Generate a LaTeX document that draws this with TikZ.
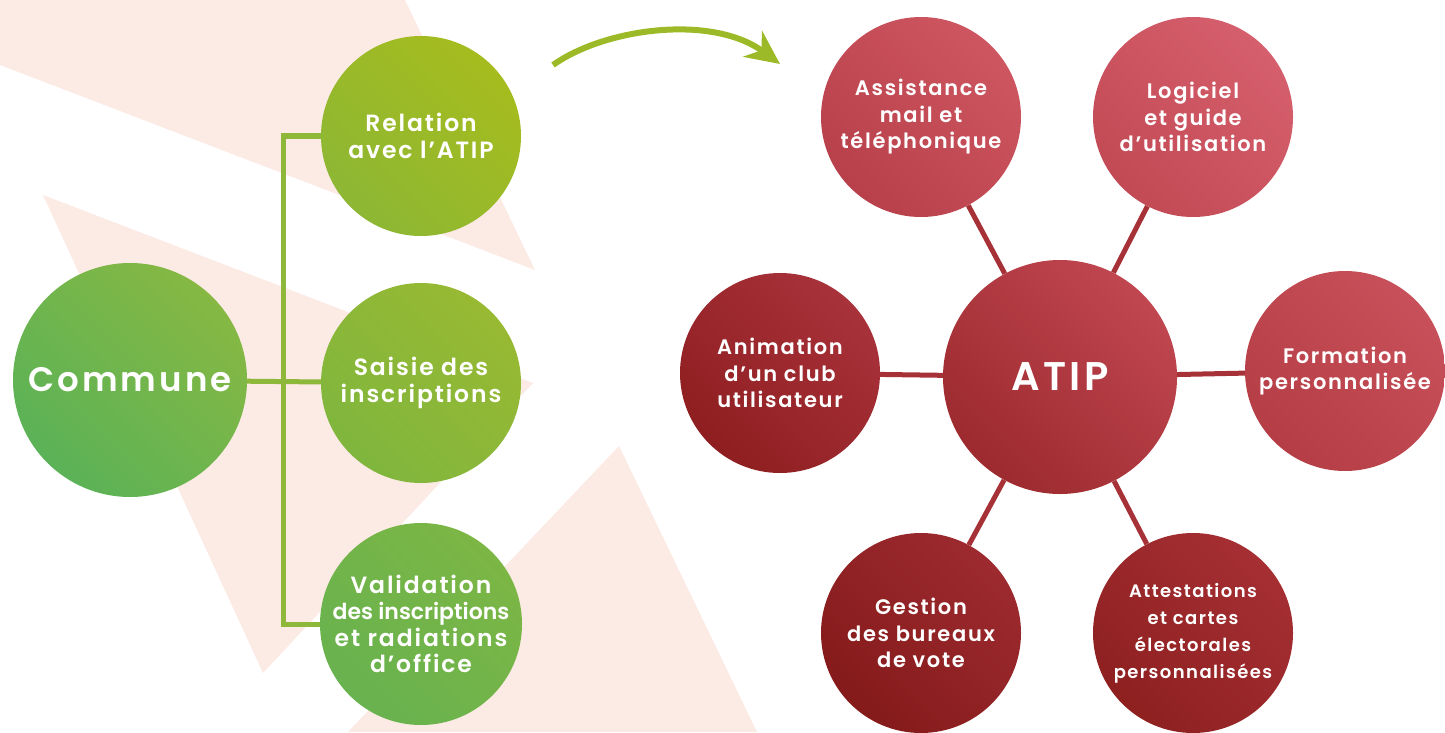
\documentclass[tikz,border=0pt]{standalone}
\usepackage{fontspec}
\setmainfont{Poppins}[LetterSpace=8, BoldFont={Poppins SemiBold}]
\usetikzlibrary{arrows.meta, positioning}

\definecolor{bgpink}{HTML}{FCEAE4}
\definecolor{linegreen}{HTML}{8DB83A}
\definecolor{arrowgreen}{HTML}{9CBA27}
\definecolor{linered}{HTML}{A63137}
% circle shades, light (top right) and dark (bottom left)
\definecolor{communeA}{HTML}{86B843}
\definecolor{communeB}{HTML}{5BB257}
\definecolor{relationA}{HTML}{A6BC1E}
\definecolor{relationB}{HTML}{8DB734}
\definecolor{saisieA}{HTML}{98B932}
\definecolor{saisieB}{HTML}{80B63E}
\definecolor{validA}{HTML}{7CB645}
\definecolor{validB}{HTML}{68B24F}
\definecolor{atipA}{HTML}{C04650}
\definecolor{atipB}{HTML}{9C2A2E}
\definecolor{assistA}{HTML}{CE5661}
\definecolor{assistB}{HTML}{B8404A}
\definecolor{logicielA}{HTML}{D65F6D}
\definecolor{logicielB}{HTML}{C24A55}
\definecolor{formationA}{HTML}{C8505A}
\definecolor{formationB}{HTML}{B53D45}
\definecolor{animationA}{HTML}{A8323A}
\definecolor{animationB}{HTML}{8E1E20}
\definecolor{gestionA}{HTML}{9C2A2F}
\definecolor{gestionB}{HTML}{851A1A}
\definecolor{attestA}{HTML}{A52F33}
\definecolor{attestB}{HTML}{8E2020}

\begin{document}
\begin{tikzpicture}[x=1bp, y=-1bp,
    ball/.style={circle, inner sep=0pt, minimum size=200bp, text=white,
      align=center, font=\fontsize{21bp}{26.5bp}\selectfont\bfseries},
    bigball/.style={ball, minimum size=234bp},
    greenball/.style={ball, font=\fontsize{23.5bp}{26.5bp}\selectfont\bfseries\addfontfeature{LetterSpace=8}},
    shadeball/.style={top color=#1A, bottom color=#1B, shading angle=-45},
    greenline/.style={draw=linegreen, line width=5bp},
    redline/.style={draw=linered, line width=5bp}]
  \useasboundingbox (0,0) rectangle (1445,732);

  % background triangles
  \fill[bgpink] (0,0) -- (405,0) -- (535,270) -- (0,65) -- cycle;
  \fill[bgpink] (43,195) -- (533,383) -- (263,673) -- cycle;
  \fill[bgpink] (619,446) -- (757,732) -- (348,732) -- cycle;

  % commune side
  \node[bigball, shadeball=commune, font=\fontsize{34bp}{40bp}\selectfont\bfseries\addfontfeature{LetterSpace=9}]
    (commune) at (130,380) {Commune};
  \node[greenball, shadeball=relation] (relation) at (421,136) {Relation\\avec l’ATIP};
  \node[greenball, shadeball=saisie] (saisie) at (421,383) {Saisie des\\inscriptions};
  \node[greenball, shadeball=valid] (validation) at (421,624)
    {Validation\\{\fontsize{22bp}{26.5bp}\selectfont\addfontfeature{LetterSpace=0}des inscriptions}\\et radiations\\d’office};

  \coordinate (fork) at (283,380);
  \draw[greenline] (commune) -- (saisie);
  \draw[greenline] (relation) -| (fork) |- (validation);

  % arrow
  \coordinate (arrowfrom) at (553,65);
  \coordinate (arrowto) at (780,64);
  \draw[arrowgreen, line width=6bp, -{Stealth[length=34bp, width=32bp]}]
    (arrowfrom) .. controls (605,28) and (712,14) .. (arrowto);

  % ATIP side
  \node[bigball, shadeball=atip, font=\fontsize{40bp}{46bp}\selectfont\bfseries]
    (atip) at (1060,377) {ATIP};
  \node[ball, shadeball=assist] (assist) at (921,117) {Assistance\\mail et\\téléphonique};
  \node[ball, shadeball=logiciel] (logiciel) at (1193,117) {Logiciel\\et guide\\d’utilisation};
  \node[ball, shadeball=formation] (formation) at (1345,371) {Formation\\personnalisée};
  \node[ball, shadeball=animation] (animation) at (780,373) {Animation\\d’un club\\utilisateur};
  \node[ball, shadeball=gestion] (gestion) at (921,633) {Gestion\\des bureaux\\de vote};
  \node[ball, shadeball=attest, font=\fontsize{18bp}{27bp}\selectfont\bfseries]
    (attest) at (1193,633) {Attestations\\et cartes\\électorales\\personnalisées};

  \foreach \n in {assist, logiciel, formation, attest, gestion, animation}
    \draw[redline] (atip) -- (\n);
\end{tikzpicture}
\end{document}
